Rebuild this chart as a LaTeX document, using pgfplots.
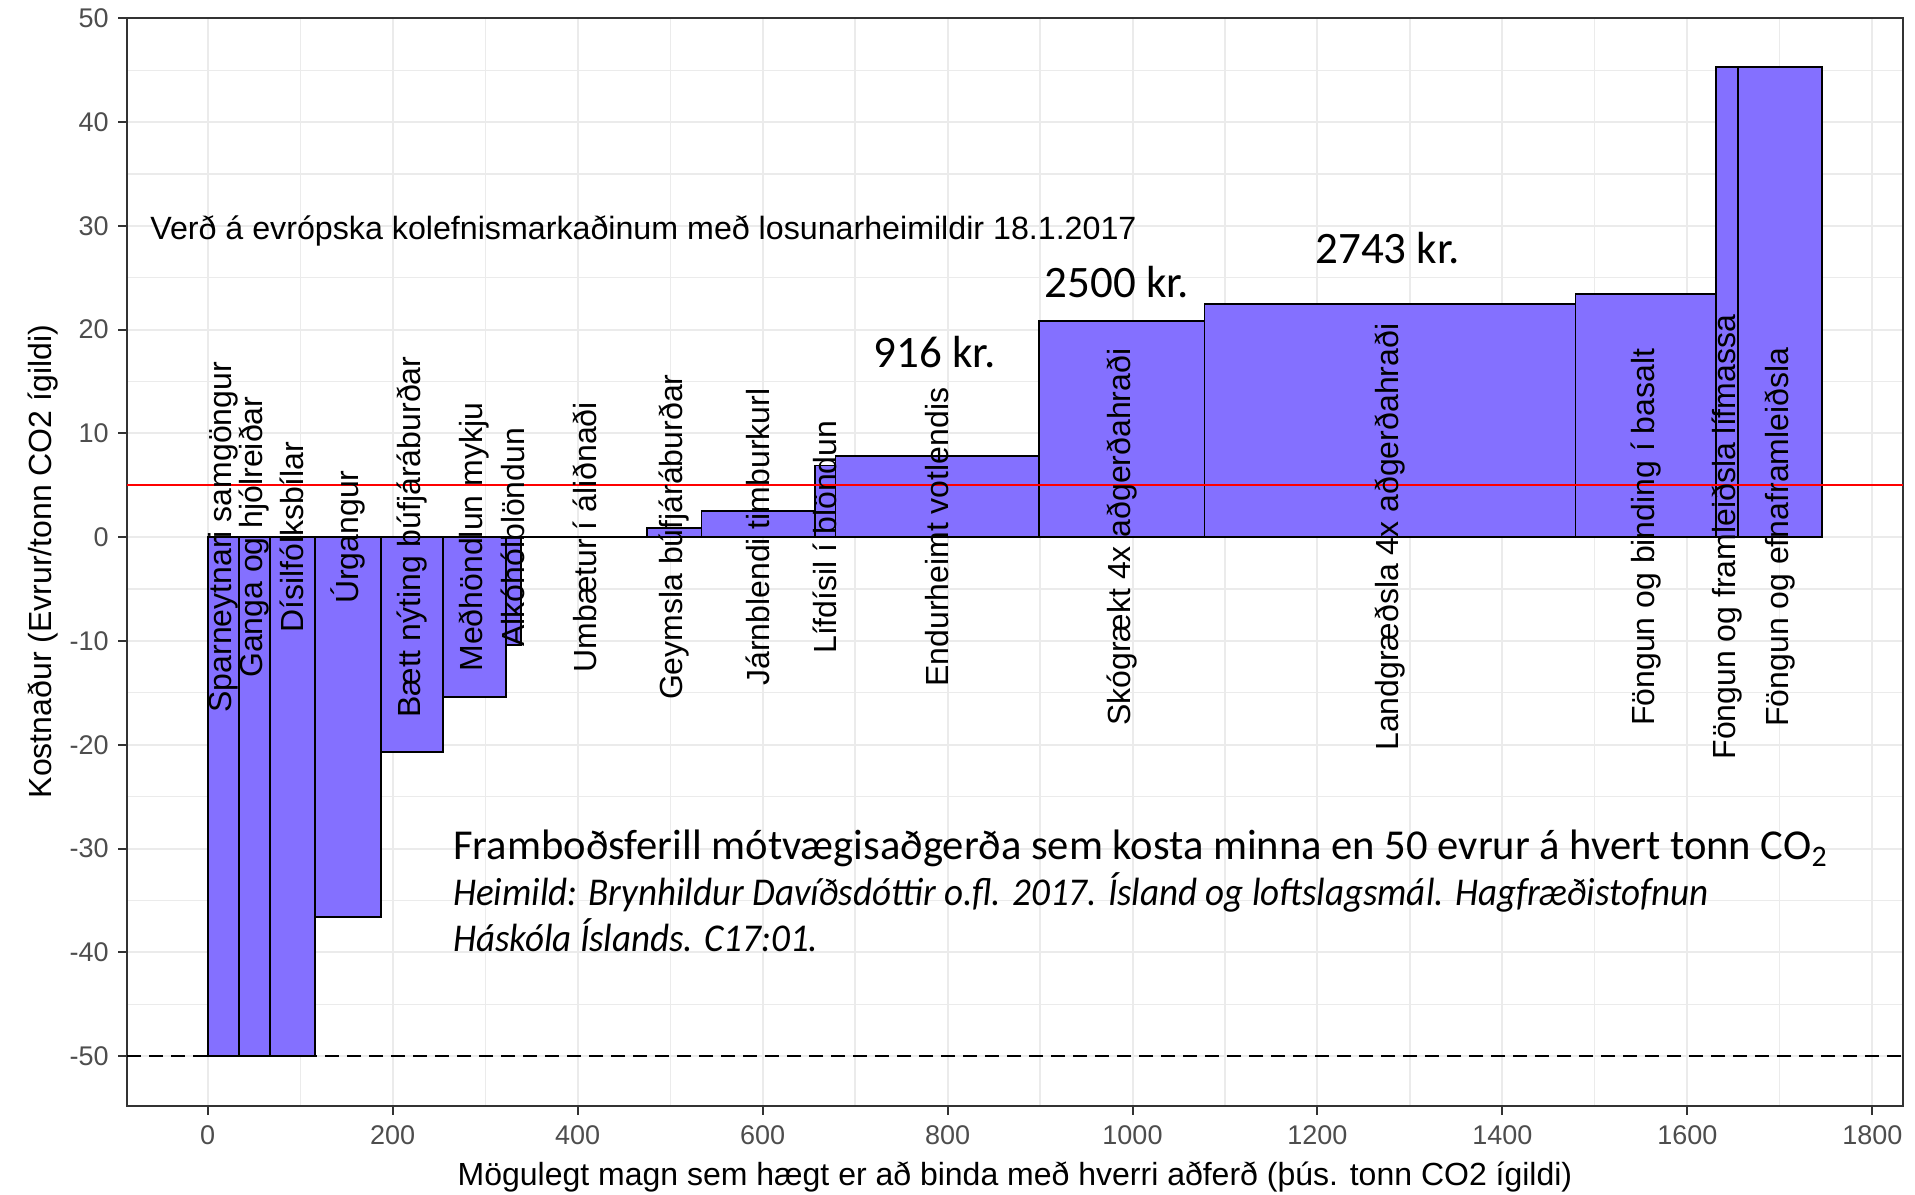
\documentclass[border=0pt]{standalone}
\usepackage{pgfplots}
\pgfplotsset{compat=1.18}
\usepackage{fontspec}
\setmainfont{Liberation Sans}
\newfontfamily\calibri{Carlito}
\newfontfamily\calibrinarrow{Carlito}[FakeStretch=0.94]
\definecolor{barfill}{HTML}{8470FF}
\definecolor{gridc}{HTML}{EBEBEB}
\definecolor{framec}{HTML}{333333}
\definecolor{ticklab}{HTML}{4D4D4D}
\begin{document}
\begin{tikzpicture}
\begin{axis}[
  name=ax,
  scale only axis, width=888pt, height=544pt,
  xmin=-87.3, xmax=1833.2, ymin=-54.77, ymax=50.07,
  xtick={0,200,400,600,800,1000,1200,1400,1600,1800},
  xticklabels={0,200,400,600,800,1000,1200,1400,1600,1800},
  ytick={-50,-40,-30,-20,-10,0,10,20,30,40,50},
  yticklabels={-50,-40,-30,-20,-10,0,10,20,30,40,50},
  minor xtick={100,300,500,700,900,1100,1300,1500,1700},
  minor ytick={-45,-35,-25,-15,-5,5,15,25,35,45},
  grid=both,
  major grid style={gridc, line width=1pt},
  minor grid style={gridc, line width=0.6pt},
  tick align=outside, major tick length=4.5pt, minor tick length=0pt,
  xtick pos=bottom, ytick pos=left,
  tick style={framec, line width=1pt},
  axis line style={framec, line width=1pt},
  ticklabel style={font=\fontsize{13.5}{13.5}\selectfont, text=ticklab, inner sep=0pt},
  xticklabel style={anchor=north, yshift=-5.3pt},
  yticklabel style={anchor=east, xshift=-4.5pt},
  xlabel={Mögulegt magn sem hægt er að binda með hverri aðferð (þús. tonn CO2 ígildi)},
  ylabel={Kostnaður (Evrur/tonn CO2 ígildi)},
  every axis x label/.style={at={(axis description cs:0.5,-0.0735)}, anchor=base, font=\fontsize{16}{16}\selectfont, text=black, inner sep=0pt},
  every axis y label/.style={at={(axis description cs:-0.0475,0.5)}, rotate=90, anchor=center, font=\fontsize{16}{16}\selectfont, text=black, inner sep=0pt},
]
\addplot[ybar interval, fill=barfill, draw=black, line width=0.9pt] coordinates {
  (0,-50) (33.5,-50) (67.3,-50) (115.8,-36.6) (187,-20.7) (254.3,-15.4)
  (322.3,-10.4) (338.6,0) (474.8,0.87) (534,2.53) (656.4,6.9) (678.8,7.8)
  (898.5,20.8) (1077.8,22.5) (1479,23.46) (1630.6,45.3) (1654.8,45.3) (1745.9,45.3)
};
\addplot[red, line width=1.1pt] coordinates {(-87.3,5) (1833.2,5)};
\addplot[black, line width=1pt, dash pattern=on 7pt off 4pt] coordinates {(-87.3,-50) (1833.2,-50)};
\begin{scope}[every node/.style={rotate=90, anchor=center, font=\fontsize{16}{16}\selectfont, inner sep=0pt}]
\node at (axis cs:16.75,0) {Sparneytnari samgöngur};
\node at (axis cs:50.4,0) {Ganga og hjólreiðar};
\node at (axis cs:91.5,0) {Dísilfólksbílar};
\node at (axis cs:151.4,0) {Úrgangur};
\node at (axis cs:220.6,0) {Bætt nýting búfjáráburðar};
\node at (axis cs:288.3,0) {Meðhöndlun mykju};
\node at (axis cs:330.5,0) {Alkóhólblöndun};
\node at (axis cs:408,0) {Umbætur í áliðnaði};
\node at (axis cs:504.4,0) {Geymsla búfjáráburðar};
\node at (axis cs:595.2,0) {Járnblendi timburkurl};
\node at (axis cs:667.6,0) {Lífdísil í blöndun};
\node at (axis cs:788.6,0) {Endurheimt votlendis};
\node at (axis cs:988.2,0) {Skógrækt 4x aðgerðahraði};
\node at (axis cs:1278.4,0) {Landgræðsla 4x aðgerðahraði};
\node at (axis cs:1554.8,0) {Föngun og binding í basalt};
\node at (axis cs:1642.7,0) {Föngun og framleiðsla lífmassa};
\node at (axis cs:1700.4,0) {Föngun og efnaframleiðsla};
\end{scope}
\node[anchor=base west, inner sep=0pt, font=\fontsize{16.1}{16.1}\selectfont] at (axis cs:-62.5,28.7) {Verð á evrópska kolefnismarkaðinum með losunarheimildir 18.1.2017};
\begin{scope}[every node/.style={inner sep=0pt, font=\calibri\fontsize{22.5}{22.5}\selectfont}]
\node[anchor=base] at (axis cs:786,16.4) {916 kr.};
\node[anchor=base] at (axis cs:983,23.1) {2500 kr.};
\node[anchor=base] at (axis cs:1276,26.4) {2743 kr.};
\end{scope}
\node[inner sep=0pt, anchor=base west, font=\calibri\fontsize{21.3}{21.3}\selectfont] at (axis cs:265,-31.1) {Framboðsferill mótvægisaðgerða sem kosta minna en 50 evrur á hvert tonn CO\textsubscript{2}};
\begin{scope}[every node/.style={inner sep=0pt, anchor=base west, font=\calibrinarrow\itshape\fontsize{19.7}{19.7}\selectfont}]
\node at (axis cs:265,-35.5) {Heimild: Brynhildur Davíðsdóttir o.fl. 2017. Ísland og loftslagsmál. Hagfræðistofnun};
\node at (axis cs:265,-39.9) {Háskóla Íslands. C17:01.};
\end{scope}
\end{axis}
\pgfresetboundingbox
\path ([shift={(-63.5pt,-44.5pt)}]ax.south west) rectangle ([shift={(6pt,8.8pt)}]ax.north east);
\end{tikzpicture}
\end{document}
